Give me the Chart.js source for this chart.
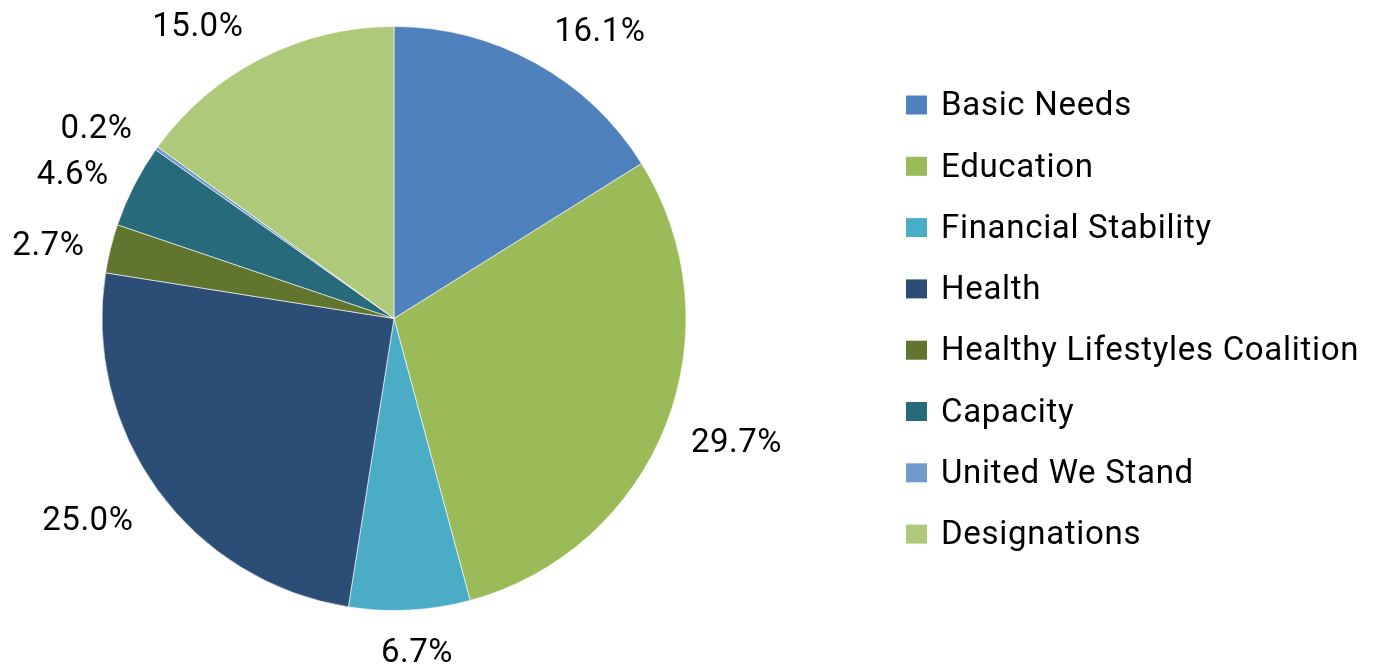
<!DOCTYPE html>
<html>
<head>
<meta charset="utf-8">
<script src="https://cdn.jsdelivr.net/npm/chart.js@4.4.1/dist/chart.umd.min.js"></script>
<style>
    html, body { margin: 0; padding: 0; background: #ffffff; }
    #wrap { position: relative; width: 1377px; height: 664px; }
</style>
</head>
<body>
<div id="wrap"><canvas id="pieChart"></canvas></div>
<script>
// Chart data
const categories = ['Basic Needs', 'Education', 'Financial Stability', 'Health',
    'Healthy Lifestyles Coalition', 'Capacity', 'United We Stand', 'Designations'];
const shares = [16.1, 29.7, 6.7, 25.0, 2.7, 4.6, 0.2, 15.0];
const sliceColors = ['#4F81BD', '#9BBB59', '#4BACC6', '#2C4D75',
    '#61752F', '#276A7C', '#729ACA', '#AFC97A'];

// Small nudges so labels sit where Excel's best-fit put them
const labelNudge = [[34, 25], [12, -4], [4, -19], [-19, -5], [-1, 13], [-5, 18], [-9, 18], [-35, 26]];

const FONT = '33px Roboto, "Liberation Sans", sans-serif';

// Percent labels outside each slice
const outsideLabels = {
    id: 'outsideLabels',
    afterDatasetsDraw(chart) {
        const ctx = chart.ctx;
        const arcs = chart.getDatasetMeta(0).data;
        ctx.save();
        ctx.font = FONT;
        ctx.letterSpacing = '0.5px';
        ctx.fillStyle = '#000000';
        ctx.textAlign = 'center';
        ctx.textBaseline = 'middle';
        arcs.forEach(function(arc, i) {
            const mid = (arc.startAngle + arc.endAngle) / 2;
            const d = arc.outerRadius + 63;
            const x = arc.x + Math.cos(mid) * d + labelNudge[i][0];
            const y = arc.y + Math.sin(mid) * d + labelNudge[i][1];
            ctx.fillText(shares[i].toFixed(1) + '%', x, y);
        });
        ctx.restore();
    }
};

// Legend drawn on the right side of the canvas
const sideLegend = {
    id: 'sideLegend',
    afterDraw(chart) {
        const ctx = chart.ctx;
        const ds = chart.data.datasets[0];
        ctx.save();
        ctx.font = FONT;
        ctx.letterSpacing = '0.7px';
        ctx.textAlign = 'left';
        ctx.textBaseline = 'middle';
        chart.data.labels.forEach(function(label, i) {
            const y = 105 + i * 61.3;
            ctx.fillStyle = ds.backgroundColor[i];
            ctx.fillRect(906, y - 9.5, 21, 19);
            ctx.fillStyle = '#000000';
            ctx.fillText(label, 941, y + 2);
        });
        ctx.restore();
    }
};

document.addEventListener('DOMContentLoaded', function() {
    const ctx = document.getElementById('pieChart').getContext('2d');
    new Chart(ctx, {
        type: 'pie',
        data: {
            labels: categories,
            datasets: [{
                data: shares,
                backgroundColor: sliceColors,
                borderColor: 'rgba(255,255,255,0.6)',
                borderWidth: 1
            }]
        },
        options: {
            responsive: true,
            maintainAspectRatio: false,
            animation: false,
            layout: {
                padding: { top: 26, bottom: 53, left: 0, right: 589 }
            },
            plugins: {
                legend: { display: false },
                tooltip: { enabled: false }
            }
        },
        plugins: [outsideLabels, sideLegend]
    });
});
</script>
</body>
</html>
